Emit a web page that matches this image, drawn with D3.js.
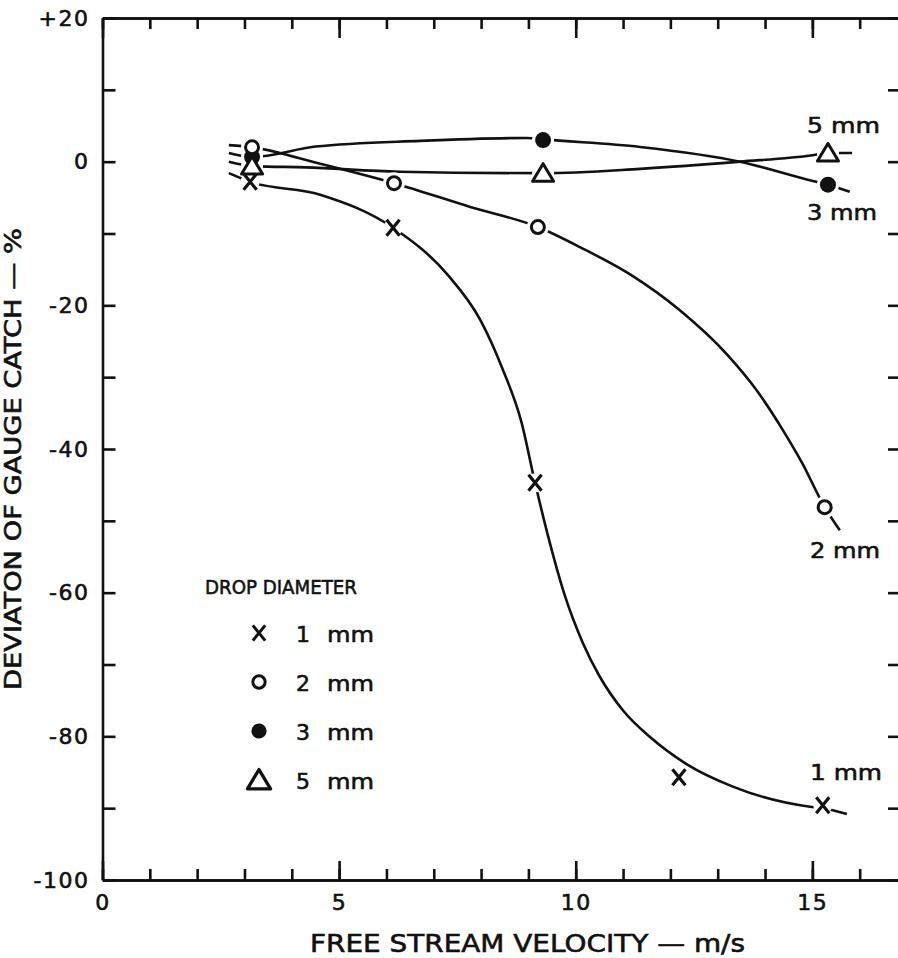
<!DOCTYPE html>
<html>
<head>
<meta charset="utf-8">
<script src="https://cdn.jsdelivr.net/npm/d3@7"></script>
<style>
body { margin: 0; background: #fff; }
svg text { font-family: "DejaVu Sans", sans-serif; fill: #111; stroke: #111; stroke-width: 0.6px; }
</style>
</head>
<body>
<div id="chart"></div>
<script>
// measured points  [velocity m/s, deviation %]
var drop1mm = [[3.12, -2.8], [6.14, -9.2], [9.14, -44.7], [12.18, -85.7], [15.22, -89.6]];
var drop2mm = [[3.16, 2.0], [6.16, -3.0], [9.20, -9.1], [15.26, -48.1]];
var drop3mm = [[3.16, 0.65], [9.31, 3.0], [15.33, -3.2]];
var drop5mm = [[3.16, -0.6], [9.31, -1.6], [15.33, 1.2]];

// the hand drawn curves
var curve1mm = [[2.67, -1.6], [3.12, -2.8], [4.6, -4.6], [6.14, -9.2], [7.30, -15.8], [7.98, -22.0],
                [8.45, -28.8], [8.85, -36.2], [9.14, -44.7], [9.45, -53.0], [9.75, -60.0], [10.15, -67.0],
                [10.5, -71.6], [11.0, -76.4], [11.57, -80.1], [12.35, -83.9], [13.32, -87.0], [14.95, -89.8],
                [15.22, -90.0], [15.73, -90.8]];
var curve2mm = [[2.67, 2.3], [3.16, 2.0], [4.6, -0.3], [6.16, -3.0], [7.77, -6.3], [9.20, -9.1], [10.09, -11.9],
                [11.15, -15.7], [12.20, -20.7], [13.19, -26.8], [13.83, -31.9], [14.38, -37.4], [14.78, -41.9],
                [15.26, -48.1], [15.58, -51.3]];
var curve3mm = [[2.67, 1.2], [3.16, 0.65], [4.5, 2.1], [6.71, 2.9], [8.97, 3.3], [9.31, 3.1],
                [11.36, 2.05], [13.47, 0], [15.01, -2.7], [15.33, -3.2], [15.79, -4.2]];
var curve5mm = [[2.67, 0], [3.16, -0.6], [4.3, -0.8], [6.28, -1.4], [9.31, -1.6], [11.36, -1.0],
                [13.47, 0], [15.01, 0.9], [15.33, 1.2], [15.84, 1.2]];

var xMinorTicks = [0, 1, 2, 3, 4, 5, 6, 7, 8, 9, 10, 11, 12, 13, 14, 15, 16, 17];
var xMajorTicks = [0, 5, 10, 15];
var yTicks = [20, 10, 0, -10, -20, -30, -40, -50, -60, -70, -80, -90, -100];
var yLabelTicks = [20, 0, -20, -40, -60, -80, -100];
var legendSizes = ["1", "2", "3", "5"];

var width = 898, height = 958;

var x = d3.scaleLinear().domain([0, 17]).range([102.5, 907]);
var y = d3.scaleLinear().domain([-100, 20]).range([880, 18]);

var svg = d3.select("#chart").append("svg")
  .attr("width", width)
  .attr("height", height);

function inkAxis(g) {
  g.selectAll("path,line").attr("stroke", "#111").attr("stroke-width", 2.6);
  g.selectAll("text").attr("font-size", 22).attr("letter-spacing", 1.5).attr("fill", "#111");
}

// bottom axis: small ticks every 1 m/s, long ones every 5
svg.append("g").attr("transform", "translate(0,880)")
  .call(d3.axisBottom(x).tickValues(xMinorTicks).tickSizeInner(-11).tickSizeOuter(0).tickFormat(""))
  .call(inkAxis);
svg.append("g").attr("transform", "translate(0,880)")
  .call(d3.axisBottom(x).tickValues(xMajorTicks).tickSizeInner(-19).tickSizeOuter(0).tickPadding(14).tickFormat(d3.format("d")))
  .call(inkAxis);
// top axis, mirrored
svg.append("g").attr("transform", "translate(0,18)")
  .call(d3.axisTop(x).tickValues(xMinorTicks).tickSizeInner(-11).tickSizeOuter(0).tickFormat(""))
  .call(inkAxis);
svg.append("g").attr("transform", "translate(0,18)")
  .call(d3.axisTop(x).tickValues(xMajorTicks).tickSizeInner(-20).tickSizeOuter(0).tickFormat(""))
  .call(inkAxis);

// left axis, labels every 20
svg.append("g").attr("transform", "translate(102.5,0)")
  .call(d3.axisLeft(y).tickValues(yTicks).tickSizeInner(-13).tickSizeOuter(0).tickPadding(13)
    .tickFormat(function(d) {
      if (yLabelTicks.indexOf(d) < 0) return "";
      return d > 0 ? "+" + d : String(d);
    }))
  .call(inkAxis);
// right axis (runs off the page edge)
svg.append("g").attr("transform", "translate(907,0)")
  .call(d3.axisRight(y).tickValues(yTicks).tickSizeInner(-19).tickSizeOuter(0).tickFormat(""))
  .call(inkAxis);

// axis titles
svg.append("text")
  .attr("x", 310).attr("y", 952)
  .attr("font-size", 25)
  .attr("textLength", 435).attr("lengthAdjust", "spacingAndGlyphs")
  .text("FREE STREAM VELOCITY \u2014 m/s");

svg.append("text")
  .attr("transform", "translate(21,459) rotate(-90)")
  .attr("text-anchor", "middle")
  .attr("font-size", 23)
  .attr("textLength", 462).attr("lengthAdjust", "spacingAndGlyphs")
  .text("DEVIATON OF GAUGE CATCH \u2014 %");

// curves
var line = d3.line()
  .x(function(d) { return x(d[0]); })
  .y(function(d) { return y(d[1]); })
  .curve(d3.curveMonotoneX);

[curve1mm, curve2mm, curve3mm, curve5mm].forEach(function(c) {
  svg.append("path")
    .datum(c)
    .attr("fill", "none")
    .attr("stroke", "#111")
    .attr("stroke-width", 2.6)
    .attr("d", line);
});

// marker shapes
function drawMarker(g, kind, s) {
  s = s || 1;
  if (kind == "x") {
    g.append("path").attr("d", "M-6.5,-8L6.5,8M6.5,-8L-6.5,8")
      .attr("transform", "scale(" + s + ")")
      .attr("stroke", "#111").attr("stroke-width", 3.2).attr("fill", "none");
  } else if (kind == "o") {
    g.append("circle").attr("r", 6.5 * s).attr("fill", "#fff").attr("stroke", "#111").attr("stroke-width", 3);
  } else if (kind == "dot") {
    g.append("circle").attr("r", 8 * s).attr("fill", "#111");
  } else {
    g.append("path").attr("d", "M0,-9.5L10.5,8L-10.5,8Z")
      .attr("transform", "scale(" + s + ")")
      .attr("fill", "#fff").attr("stroke", "#111").attr("stroke-width", 3).attr("stroke-linejoin", "round");
  }
}

var series = [
  { pts: drop3mm, kind: "dot" },
  { pts: drop2mm, kind: "o" },
  { pts: drop5mm, kind: "tri" },
  { pts: drop1mm, kind: "x" }
];

// white gap round every point, the lines stop short of the symbols
series.forEach(function(s) {
  svg.selectAll(null).data(s.pts).enter()
    .append("circle")
    .attr("cx", function(d) { return x(d[0]); })
    .attr("cy", function(d) { return y(d[1]); })
    .attr("r", s.kind == "x" ? 9.5 : 11)
    .attr("fill", "#fff");
});
series.forEach(function(s) {
  svg.selectAll(null).data(s.pts).enter()
    .append("g")
    .attr("transform", function(d) { return "translate(" + x(d[0]) + "," + y(d[1]) + ")"; })
    .each(function() { drawMarker(d3.select(this), s.kind); });
});

// curve labels at the right
var endLabels = [
  { t: "5 mm", x: 807, y: 133, w: 73 },
  { t: "3 mm", x: 807, y: 220, w: 70 },
  { t: "2 mm", x: 810, y: 558, w: 70 },
  { t: "1 mm", x: 810, y: 780, w: 72 }
];
svg.selectAll(null).data(endLabels).enter()
  .append("text")
  .attr("x", function(d) { return d.x; })
  .attr("y", function(d) { return d.y; })
  .attr("font-size", 22)
  .attr("textLength", function(d) { return d.w; })
  .attr("lengthAdjust", "spacingAndGlyphs")
  .text(function(d) { return d.t; });

// legend
svg.append("text")
  .attr("x", 205).attr("y", 594)
  .attr("font-size", 20)
  .attr("textLength", 152).attr("lengthAdjust", "spacingAndGlyphs")
  .text("DROP DIAMETER");

var legendKinds = ["x", "o", "dot", "tri"];
legendSizes.forEach(function(lbl, i) {
  var cy = 633 + i * 49;
  var g = svg.append("g").attr("transform", "translate(259," + cy + ")");
  drawMarker(g, legendKinds[i], legendKinds[i] == "tri" ? 1.1 : 0.95);
  svg.append("text").attr("x", 296).attr("y", cy + 9).attr("font-size", 22).text(lbl);
  svg.append("text").attr("x", 327).attr("y", cy + 9).attr("font-size", 22)
    .attr("textLength", 47).attr("lengthAdjust", "spacingAndGlyphs").text("mm");
});
</script>
</body>
</html>
